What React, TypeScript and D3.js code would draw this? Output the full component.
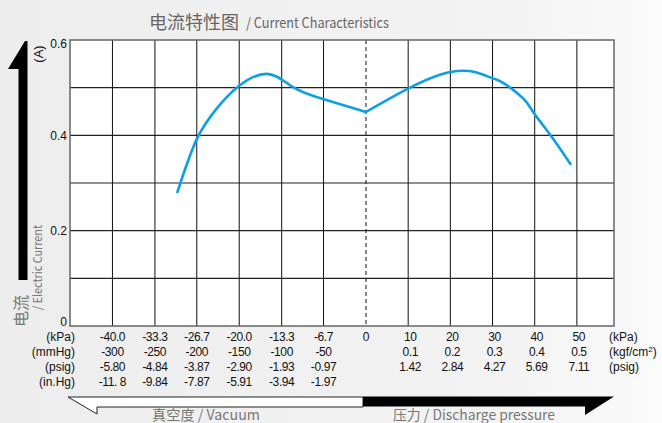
import React from "react";
import * as d3 from "d3";

// ---- data ----
const kpaLeft = [-40, -33.3, -26.7, -20, -13.3, -6.7, 0];
const kpaLeftLabels = ["-40.0", "-33.3", "-26.7", "-20.0", "-13.3", "-6.7", "0"];
const mmHgLabels = ["-300", "-250", "-200", "-150", "-100", "-50"];
const psigLeftLabels = ["-5.80", "-4.84", "-3.87", "-2.90", "-1.93", "-0.97"];
const inHgLabels = ["-11. 8", "-9.84", "-7.87", "-5.91", "-3.94", "-1.97"];
const kpaRight = [10, 20, 30, 40, 50];
const kpaRightLabels = ["10", "20", "30", "40", "50"];
const kgfLabels = ["0.1", "0.2", "0.3", "0.4", "0.5"];
const psigRightLabels = ["1.42", "2.84", "4.27", "5.69", "7.11"];
const yTicks = [0, 0.2, 0.4, 0.6];
const yGrid = [0.1, 0.2, 0.3, 0.4, 0.5];

// current curve, vacuum side and discharge side: kPa and A
const vacKpa = [-29.8, -26.7, -23.5, -20.3, -15.6, -11.5, -6.8, 0];
const vacAmp = [0.279, 0.392, 0.457, 0.501, 0.529, 0.501, 0.476, 0.449];
const disKpa = [0, 10.2, 17.5, 21.6, 25.8, 29.9, 32.5, 37.2, 39.8, 44.1, 48.6];
const disAmp = [0.449, 0.499, 0.527, 0.535, 0.533, 0.52, 0.51, 0.478, 0.447, 0.396, 0.338];

const W = 662;
const H = 423;
const L = 70, R = 614, T = 40, B = 326, Z = 366;

export default function App() {
  const x = d3.scaleLinear().domain([-46.7, 0, 58.8]).range([L, Z, R]);
  const y = d3.scaleLinear().domain([0, 0.6]).range([B, T]);
  const vacPts: [number, number][] = vacKpa.map((k, i) => [k, vacAmp[i]]);
  const disPts: [number, number][] = disKpa.map((k, i) => [k, disAmp[i]]);
  const line = d3
    .line<[number, number]>()
    .x((d) => x(d[0]))
    .y((d) => y(d[1]))
    .curve(d3.curveNatural);

  const numFont = "'Liberation Sans', Arial, sans-serif";
  const cjk = "'Noto Sans CJK SC', sans-serif";
  const rows = [337, 352, 367, 382];
  const vLines = [...kpaLeft.slice(0, 6), ...kpaRight];

  return (
    <div style={{ position: "fixed", left: 0, top: 0 }}>
      <svg width={W} height={H} viewBox={`0 0 ${W} ${H}`}>
        <defs>
          <linearGradient id="bg" x1="0" x2="1" y1="0" y2="0">
            <stop offset="0" stopColor="#ededed" />
            <stop offset="0.75" stopColor="#f3f3f3" />
            <stop offset="1" stopColor="#fbfbfb" />
          </linearGradient>
        </defs>
        <rect x={0} y={0} width={W} height={H} fill="url(#bg)" />

        {/* title */}
        <text x={149} y={29} fontFamily={cjk} fontSize={18} fill="#666">电流特性图</text>
        <text x={246} y={28} fontFamily={cjk} fontSize={14.5} fill="#666" textLength={143} lengthAdjust="spacingAndGlyphs">/ Current Characteristics</text>

        {/* plot area */}
        <rect x={L} y={T} width={R - L} height={B - T} fill="#fff" />
        {yGrid.map((v) => (
          <line key={"h" + v} x1={L} x2={R} y1={y(v)} y2={y(v)} stroke="#222" strokeWidth={1.2} />
        ))}
        {vLines.map((v) => (
          <line key={"v" + v} x1={x(v)} x2={x(v)} y1={T} y2={B} stroke="#111" strokeWidth={1} />
        ))}
        <line x1={x(0)} x2={x(0)} y1={T} y2={B} stroke="#111" strokeWidth={1} strokeDasharray="4,3" />
        <rect x={L} y={T} width={R - L} height={B - T} fill="none" stroke="#666" strokeWidth={1.5} />

        {/* curve */}
        <path d={line(vacPts) || ""} fill="none" stroke="#0ba0e4" strokeWidth={2.6} strokeLinejoin="round" />
        <path d={line(disPts) || ""} fill="none" stroke="#0ba0e4" strokeWidth={2.6} strokeLinejoin="round" />

        {/* y ticks */}
        {yTicks.map((v) => (
          <text key={"yt" + v} x={67} y={Math.min(Math.max(y(v), 44), 322)} dy="0.35em" textAnchor="end" fontFamily={numFont} fontSize={12} fill="#111">
            {v === 0 ? "0" : v.toFixed(1)}
          </text>
        ))}

        {/* y axis arrow and labels */}
        <path d="M25 41 L27.5 41 L27.5 280 L18.5 280 L18.5 69 L8 69 Z" fill="#000" />
        <text transform="translate(38,54) rotate(-90)" textAnchor="middle" dominantBaseline="central" fontFamily={numFont} fontSize={13} fill="#111">(A)</text>
        <text transform="translate(20,327) rotate(-90)" textAnchor="start" dominantBaseline="central" fontFamily={cjk} fontSize={16} fill="#777">电流</text>
        <text transform="translate(36,310) rotate(-90)" textAnchor="start" dominantBaseline="central" fontFamily={cjk} fontSize={12} fill="#777" textLength={85} lengthAdjust="spacingAndGlyphs">/ Electric Current</text>

        {/* bottom rows - left */}
        {["(kPa)", "(mmHg)", "(psig)", "(in.Hg)"].map((s, i) => (
          <text key={"ul" + i} x={75} y={rows[i]} dy="0.35em" textAnchor="end" fontFamily={numFont} fontSize={12} fill="#111">{s}</text>
        ))}
        {kpaLeftLabels.map((s, i) => (
          <text key={"k" + i} x={x(kpaLeft[i])} y={rows[0]} dy="0.35em" textAnchor="middle" fontFamily={numFont} fontSize={12} letterSpacing={-0.4} fill="#111">{s}</text>
        ))}
        {mmHgLabels.map((s, i) => (
          <text key={"m" + i} x={x(kpaLeft[i])} y={rows[1]} dy="0.35em" textAnchor="middle" fontFamily={numFont} fontSize={12} letterSpacing={-0.4} fill="#111">{s}</text>
        ))}
        {psigLeftLabels.map((s, i) => (
          <text key={"p" + i} x={x(kpaLeft[i])} y={rows[2]} dy="0.35em" textAnchor="middle" fontFamily={numFont} fontSize={12} letterSpacing={-0.4} fill="#111">{s}</text>
        ))}
        {inHgLabels.map((s, i) => (
          <text key={"i" + i} x={x(kpaLeft[i])} y={rows[3]} dy="0.35em" textAnchor="middle" fontFamily={numFont} fontSize={12} letterSpacing={-0.4} fill="#111">{s}</text>
        ))}

        {/* bottom rows - right */}
        {kpaRightLabels.map((s, i) => (
          <text key={"kr" + i} x={x(kpaRight[i]) + 2} y={rows[0]} dy="0.35em" textAnchor="middle" fontFamily={numFont} fontSize={12} letterSpacing={-0.4} fill="#111">{s}</text>
        ))}
        {kgfLabels.map((s, i) => (
          <text key={"g" + i} x={x(kpaRight[i]) + 2} y={rows[1]} dy="0.35em" textAnchor="middle" fontFamily={numFont} fontSize={12} letterSpacing={-0.4} fill="#111">{s}</text>
        ))}
        {psigRightLabels.map((s, i) => (
          <text key={"pr" + i} x={x(kpaRight[i]) + 2} y={rows[2]} dy="0.35em" textAnchor="middle" fontFamily={numFont} fontSize={12} letterSpacing={-0.4} fill="#111">{s}</text>
        ))}
        <text x={609} y={rows[0]} dy="0.35em" fontFamily={numFont} fontSize={12} fill="#111">(kPa)</text>
        <text x={609} y={rows[1]} dy="0.35em" fontFamily={numFont} fontSize={12} fill="#111">
          (kgf/cm<tspan dy="-4" fontSize={8}>2</tspan><tspan dy="4">)</tspan>
        </text>
        <text x={609} y={rows[2]} dy="0.35em" fontFamily={numFont} fontSize={12} fill="#111">(psig)</text>

        {/* bottom arrows */}
        <path d="M68 397 L363 397 L363 407 L97 407 L97 414 Z" fill="#fff" stroke="#222" strokeWidth={1} />
        <path d="M363 396.5 L614 396.5 L585 415 L585 406.5 L363 406.5 Z" fill="#000" />
        <text x={152} y={420} fontFamily={cjk} fontSize={14} fill="#777" textLength={108} lengthAdjust="spacingAndGlyphs">真空度 / Vacuum</text>
        <text x={393} y={420} fontFamily={cjk} fontSize={14} fill="#777" textLength={162} lengthAdjust="spacingAndGlyphs">压力 / Discharge pressure</text>
      </svg>
    </div>
  );
}
